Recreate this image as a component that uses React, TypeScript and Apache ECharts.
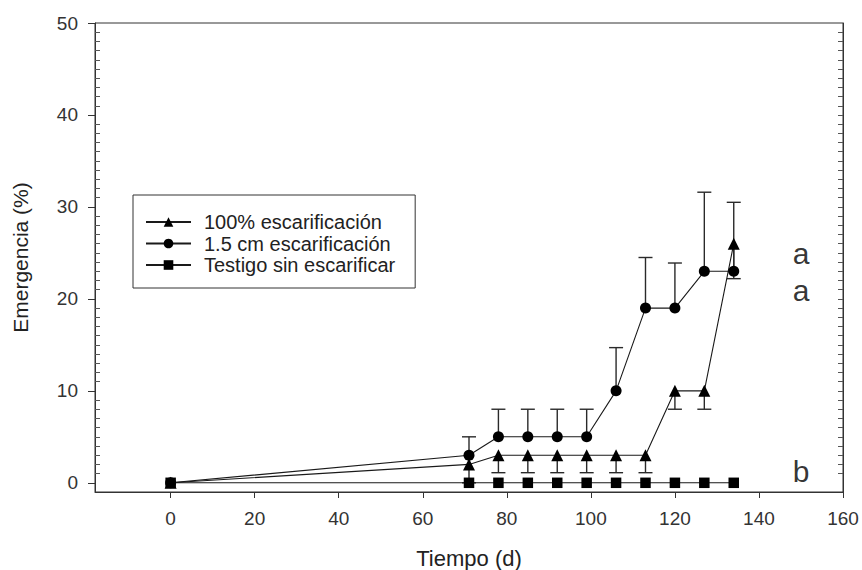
import React, { useEffect, useRef } from "react";
import * as echarts from "echarts";

// Days after sowing at which emergence was counted
const days = [0, 71, 78, 85, 92, 99, 106, 113, 120, 127, 134];

// Emergence (%) per treatment
const fullScar = [0, 2, 3, 3, 3, 3, 3, 3, 10, 10, 26];
const fullScarErr = [0, 2, 1.9, 1.9, 1.9, 1.9, 1.9, 1.9, 2, 2, 3.8];
const partialScar = [0, 3, 5, 5, 5, 5, 10, 19, 19, 23, 23];
const partialScarErr = [0, 2, 3, 3, 3, 3, 4.7, 5.5, 4.9, 8.6, 7.5];
const control = [0, 0, 0, 0, 0, 0, 0, 0, 0, 0, 0];

const seriesNames = [
  "100% escarificación",
  "1.5 cm escarificación",
  "Testigo sin escarificar",
];

// Significance letters placed to the right of the curves
const letters = ["a", "a", "b"];
const letterX = [150, 150, 150];
const letterY = [24.9, 20.9, 1.2];

const xTicks = [0, 20, 40, 60, 80, 100, 120, 140, 160];
const yTicks = [0, 10, 20, 30, 40, 50];

const FONT = "'Liberation Sans', Arial, sans-serif";
const INK = "#1a1a1a";

const range = (a: number, b: number) => {
  const out: number[] = [];
  for (let i = a; i <= b; i++) out.push(i);
  return out;
};

export default function App() {
  const ref = useRef<HTMLDivElement>(null);

  useEffect(() => {
    if (!ref.current) return;
    const chart = echarts.init(ref.current, null, { renderer: "svg" });

    // one error bar per point: [x, y, err, direction]
    const errUp = days.map((d, i) => [d, partialScar[i], partialScarErr[i], 1]);
    const errDown = days.map((d, i) => [d, fullScar[i], fullScarErr[i], -1]);

    const renderErr = (params: any, api: any) => {
      const x = api.value(0);
      const y = api.value(1);
      const e = api.value(2);
      const dir = api.value(3);
      if (!e) return null;
      const p0 = api.coord([x, y]);
      const p1 = api.coord([x, y + dir * e]);
      const style = { stroke: "#2a2a2a", lineWidth: 1.4 };
      return {
        type: "group",
        children: [
          { type: "line", shape: { x1: p0[0], y1: p0[1], x2: p1[0], y2: p1[1] }, style },
          { type: "line", shape: { x1: p1[0] - 7, y1: p1[1], x2: p1[0] + 7, y2: p1[1] }, style },
        ],
      };
    };

    const minorLeft = range(1, 49).filter((v) => v % 10 !== 0);
    const minorRight = range(1, 49);

    const lineSeries = (name: string, vals: number[], symbol: string, size: number, z: number) => ({
      name,
      type: "line",
      data: days.map((d, i) => [d, vals[i]]),
      symbol,
      symbolSize: size,
      showAllSymbol: true,
      lineStyle: { color: INK, width: 1.1 },
      itemStyle: { color: "#000", borderWidth: 0 },
      z,
    });

    chart.setOption({
      animation: false,
      backgroundColor: "#fff",
      grid: {
        left: 95,
        right: 19,
        top: 23,
        bottom: 78,
        outerBoundsMode: "none",
        containLabel: false,
        show: true,
        borderColor: "#333",
        borderWidth: 1,
        backgroundColor: "transparent",
      },
      legend: {
        orient: "vertical",
        left: 133,
        top: 195,
        data: seriesNames,
        itemWidth: 45,
        itemHeight: 12,
        itemGap: 1.5,
        padding: [17, 20, 13, 12],
        borderColor: "#333",
        borderWidth: 1,
        backgroundColor: "#fff",
        textStyle: {
          fontFamily: FONT,
          fontSize: 20,
          lineHeight: 20,
          color: "#222",
          padding: [0, 0, 0, 8],
        },
        selectedMode: false,
      },
      xAxis: {
        type: "value",
        min: -18,
        max: 160,
        name: "Tiempo (d)",
        nameLocation: "middle",
        nameGap: 55,
        nameTextStyle: { fontFamily: FONT, fontSize: 22, color: "#222" },
        axisLine: { show: true, onZero: false, lineStyle: { color: "#333", width: 1 } },
        axisTick: { show: true, customValues: xTicks, length: 6, lineStyle: { color: "#333" } },
        axisLabel: {
          customValues: xTicks,
          fontFamily: FONT,
          fontSize: 19,
          color: "#333",
          margin: 17,
        },
        splitLine: { show: false },
      },
      yAxis: [
        {
          type: "value",
          min: -1,
          max: 50,
          name: "Emergencia (%)",
          nameLocation: "middle",
          nameGap: 64,
          nameTextStyle: { fontFamily: FONT, fontSize: 21, color: "#222" },
          axisLine: { show: true, onZero: false, lineStyle: { color: "#333", width: 1 } },
          axisTick: { show: true, customValues: yTicks, length: 7, lineStyle: { color: "#333" } },
          axisLabel: {
            customValues: yTicks,
            fontFamily: FONT,
            fontSize: 19,
            color: "#333",
            margin: 17,
          },
          splitLine: { show: false },
        },
        {
          type: "value",
          min: -1,
          max: 50,
          position: "right",
          axisLine: { show: true, onZero: false, lineStyle: { color: "#333", width: 1 } },
          axisTick: {
            show: true,
            inside: true,
            customValues: minorRight,
            length: 5,
            lineStyle: { color: "#555" },
          },
          axisLabel: { show: false },
          splitLine: { show: false },
        },
        {
          type: "value",
          min: -1,
          max: 50,
          position: "left",
          axisLine: { show: false, onZero: false },
          axisTick: {
            show: true,
            inside: true,
            customValues: minorLeft,
            length: 5,
            lineStyle: { color: "#555" },
          },
          axisLabel: { show: false },
          splitLine: { show: false },
        },
      ],
      series: [
        {
          type: "custom",
          name: "err-up",
          renderItem: renderErr,
          data: errUp,
          encode: { x: 0, y: 1 },
          z: 1,
          silent: true,
        },
        {
          type: "custom",
          name: "err-down",
          renderItem: renderErr,
          data: errDown,
          encode: { x: 0, y: 1 },
          z: 1,
          silent: true,
        },
        lineSeries(seriesNames[0], fullScar, "triangle", 12, 3),
        lineSeries(seriesNames[1], partialScar, "circle", 11, 4),
        lineSeries(seriesNames[2], control, "rect", 10.5, 5),
        {
          type: "scatter",
          name: "letras",
          data: letters.map((l, i) => ({ value: [letterX[i], letterY[i]], name: l })),
          symbolSize: 0,
          silent: true,
          label: {
            show: true,
            position: "inside",
            formatter: (p: any) => p.name,
            fontFamily: FONT,
            fontSize: 30,
            color: "#000",
          },
          z: 6,
        },
      ],
    });

    return () => chart.dispose();
  }, []);

  return (
    <div
      ref={ref}
      style={{ position: "fixed", left: 0, top: 0, width: 862, height: 570 }}
    />
  );
}
